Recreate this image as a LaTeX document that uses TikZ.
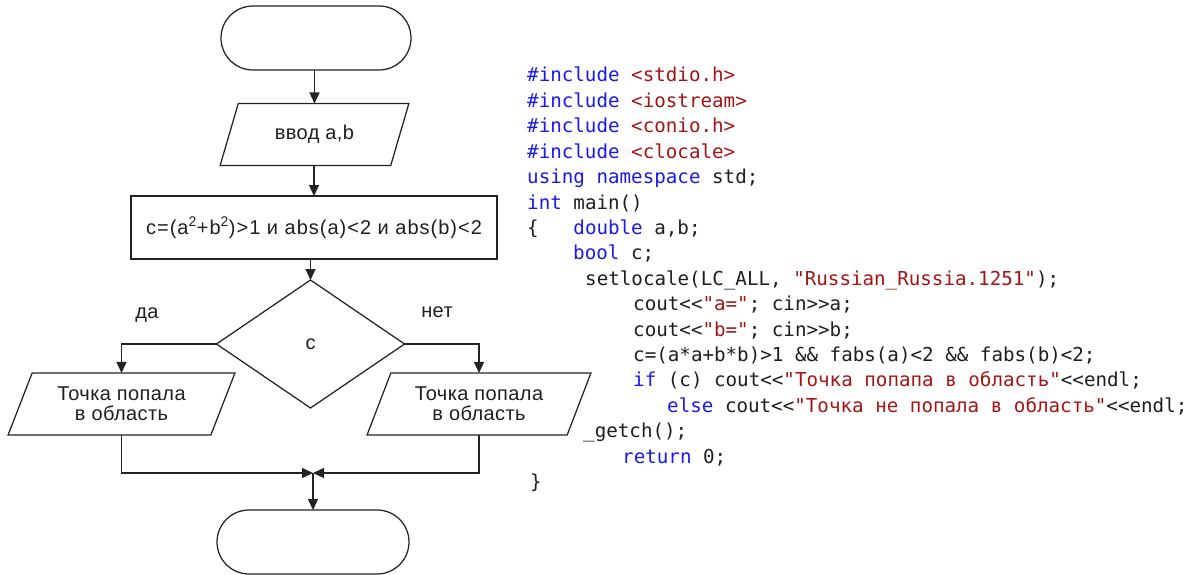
\documentclass[tikz,border=0pt]{standalone}
\usepackage{fontspec}
\setmainfont{Liberation Sans}[LetterSpace=2]
\newfontfamily\wideflow{Liberation Sans}[LetterSpace=5]
\setmonofont{DejaVu Sans Mono}
\usetikzlibrary{shapes.geometric,shapes.misc,arrows.meta}
\definecolor{kw}{RGB}{25,25,235}
\definecolor{str}{RGB}{163,21,21}
\definecolor{ink}{RGB}{35,35,35}
\definecolor{txt}{RGB}{30,30,30}

\begin{document}
\begin{tikzpicture}[x=1pt,y=-1pt,
  flow/.style={draw=ink, line width=1.25pt, inner sep=0pt, outer sep=0pt,
    font=\fontsize{20}{20}\selectfont, text=txt, align=center},
  term/.style={flow, rounded rectangle, minimum width=190pt, minimum height=64pt},
  iobox/.style={flow, trapezium, trapezium stretches=true,
    trapezium left angle=63, trapezium right angle=117,
    minimum width=#1, minimum height=62pt},
  procbox/.style={flow, rectangle, minimum width=366pt, minimum height=63pt},
  decision/.style={flow, diamond, aspect=1, minimum width=188pt, minimum height=128pt},
  link/.style={draw=ink, line width=1.25pt, -{Triangle[length=11pt,width=10pt]}},
  lbl/.style={font=\fontsize{20}{20}\selectfont, text=txt, inner sep=0pt},
  code/.style={font=\ttfamily\fontsize{19.2}{20}\selectfont, text=txt,
    anchor=base west, inner sep=0pt}
]
\useasboundingbox (0,0) rectangle (1196,575);

% ---- flowchart ----
\node[term] (start) at (316,38) {};
\node[iobox=189pt] (input) at (314.5,134.5) {ввод a,b};
\node[procbox] (calc) at (314,227.5)
  {\wideflow c=(a\textsuperscript{2}+b\textsuperscript{2})>1 и abs(a)<2 и abs(b)<2};
\node[decision] (test) at (310.5,344) {c};
\node[iobox=227pt] (yes) at (121.5,404) {Точка попала\\в область};
\node[iobox=224pt] (no) at (479,404) {Точка попала\\в область};
\node[term, minimum width=192pt] (stop) at (313,542) {};
\coordinate (join) at (313,473);

\node[lbl] (ylab) at (147,315) {да};
\node[lbl] (nlab) at (437,312) {нет};

\draw[link] (input.north |- start.south) -- (input.north);
\draw[link] (calc.north |- input.south) -- (calc.north);
\draw[link] (test.north |- calc.south) -- (test.north);
\draw[link] (test.west) -| (yes.north);
\draw[link] (test.east) -| (no.north);
\draw[link] (yes.south) |- (join);
\draw[link] (no.south) |- (join);
\draw[link] (join) -- (stop.north);

% ---- program listing ----
\node[code] (c0) at (527,82) {\textcolor{kw}{\#include} \textcolor{str}{<stdio.h>}};
\node[code] (c1) at (527,107.4) {\textcolor{kw}{\#include} \textcolor{str}{<iostream>}};
\node[code] (c2) at (527,132.8) {\textcolor{kw}{\#include} \textcolor{str}{<conio.h>}};
\node[code] (c3) at (527,158.2) {\textcolor{kw}{\#include} \textcolor{str}{<clocale>}};
\node[code] (c4) at (527,183.6) {\textcolor{kw}{using} \textcolor{kw}{namespace} std;};
\node[code] (c5) at (527,209) {\textcolor{kw}{int} main()};
\node[code] (c6) at (527,234.4) {\{\ \ \ \textcolor{kw}{double} a,b;};
\node[code] (c7) at (573,259.8) {\textcolor{kw}{bool} c;};
\node[code] (c8) at (585,285.2) {setlocale(LC\_ALL, \textcolor{str}{"Russian\_Russia.1251"});};
\node[code] (c9) at (633,310.6) {cout<<\textcolor{str}{"a="}; cin>>a;};
\node[code] (c10) at (633,336) {cout<<\textcolor{str}{"b="}; cin>>b;};
\node[code] (c11) at (633,361.4) {c=(a*a+b*b)>1 \&\& fabs(a)<2 \&\& fabs(b)<2;};
\node[code] (c12) at (633,386.8) {\textcolor{kw}{if} (c) cout<<\textcolor{str}{"Точка попапа в область"}<<endl;};
\node[code] (c13) at (667,412.2) {\textcolor{kw}{else} cout<<\textcolor{str}{"Точка не попала в область"}<<endl;};
\node[code] (c14) at (583,437.6) {\_getch();};
\node[code] (c15) at (622,463) {\textcolor{kw}{return} 0;};
\node[code] (c16) at (530,488.4) {\}};
\end{tikzpicture}
\end{document}
